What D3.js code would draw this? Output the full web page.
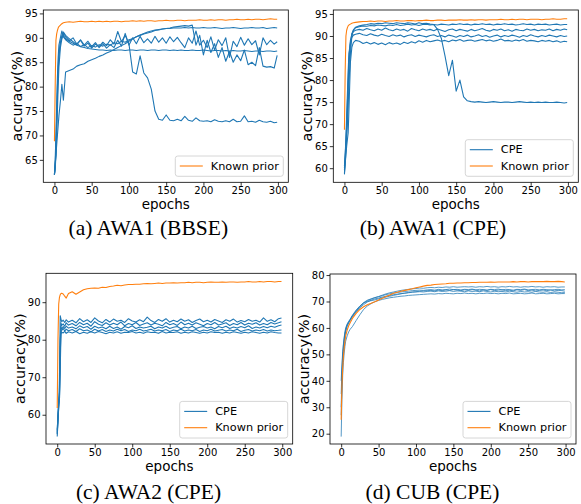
<!DOCTYPE html>
<html><head><meta charset="utf-8">
<script src="https://cdn.jsdelivr.net/npm/d3@7"></script>
<style>body{margin:0;background:#fff} svg{display:block}</style>
</head><body>
<svg id="c" width="581" height="504"></svg>
<script>
// ---------------- DATA ----------------
const epochs = [0,1,2,3,4,5,6,8,10,12,15,20,25,30,35,40,45,50,55,60,65,70,75,80,85,90,95,100,105,110,115,120,125,130,135,140,145,150,155,160,165,170,175,180,185,190,195,200,205,210,215,220,225,230,235,240,245,250,255,260,265,270,275,280,285,290,295,299];
const xTicks = [0,50,100,150,200,250,300];

// (a) AWA1 (BBSE)
const aKnown = [68.8,80,89.5,90.8,91.5,92,92.3,92.6,92.9,93.1,93.2,
93.3,93.2,93.3,93.4,93.3,93.3,93.4,93.3,93.4,93.3,
93.4,93.3,93.4,93.4,93.3,93.4,93.4,93.5,93.4,93.5,
93.4,93.5,93.5,93.4,93.5,93.5,93.6,93.5,93.5,93.6,
93.6,93.5,93.6,93.6,93.6,93.7,93.6,93.6,93.7,93.6,
93.7,93.7,93.6,93.7,93.7,93.8,93.7,93.7,93.8,93.7,
93.8,93.8,93.7,93.8,93.9,93.8,93.8];
const aRun1 = [62,64,66,68,70,72,74,77,80.5,77.2,83,
83.3,83.6,84.2,84.5,84.7,85.2,85.5,85.8,86.2,86.5,
86.9,87.2,87.6,88.0,88.4,88.8,89.3,89.8,90.2,90.6,
90.9,91.2,91.4,91.6,91.7,91.8,91.9,91.9,92.0,92.0,
92.0,92.1,92.0,92.1,92.0,92.0,92.1,92.0,92.0,92.1,
92.0,91.9,92.0,92.0,92.1,92.0,91.9,92.0,92.0,92.1,
92.0,92.0,92.1,91.9,92.0,92.1,92.0];
const aRun2 = [62,64,66,72,78,83,86,89,90.5,91.2,90.5,
89.8,89.2,88.6,89.5,88.3,88.9,87.9,88.7,88.2,89.1,
88.4,89.6,88.7,91.3,89.2,90.5,88.8,83.0,82.6,86.3,
82.8,81.8,79.5,75.0,73.3,73.1,74.2,73.1,73.0,73.3,
73.0,73.9,73.1,72.9,73.6,73.0,72.9,73.0,72.8,73.2,
72.9,72.8,73.0,72.8,73.3,72.8,72.9,74.0,72.8,72.9,
72.7,73.1,72.8,72.7,72.9,72.6,72.7];
const aRun3 = [62,65,70,76,82,86,88.5,90,91.4,90.2,89.6,
89.0,88.5,88.9,88.2,88.6,88.0,88.4,88.1,88.6,88.3,
88.7,88.5,89.0,88.8,89.3,89.1,89.6,89.8,90.2,90.5,
90.8,91.0,91.2,91.5,91.6,91.8,91.9,92.0,92.2,92.3,
92.4,92.5,92.4,92.6,88.5,90.5,86.5,89.5,87.0,88.8,
86.0,88.0,85.2,87.2,85.0,86.5,85.3,87.5,84.5,85.0,
84.3,88.0,84.2,84.0,84.1,83.8,86.4];
const aRun4 = [62,64,68,74,80,84,87,89,90,90.5,89.8,
89.3,88.9,88.5,88.2,88.0,87.8,87.7,87.6,87.5,87.5,
87.4,87.5,87.4,87.5,87.5,87.4,87.5,87.5,87.4,87.5,
87.5,87.4,87.5,87.5,87.4,87.5,87.5,87.4,87.5,87.4,
87.5,87.4,87.4,87.5,87.4,87.4,87.5,87.4,87.3,87.4,
87.4,87.3,87.4,87.3,87.4,87.3,87.3,87.4,87.3,87.2,
87.3,87.3,87.2,87.3,87.3,87.2,87.3];
const aRun5 = [62,63,66,70,75,80,84,88,89.8,91,90.2,
89.4,90.0,88.7,89.6,88.5,89.3,88.2,89.0,88.0,88.8,
87.9,88.6,88.0,89.5,88.3,90.9,88.5,90.0,88.8,90.3,
89.0,89.8,88.9,90.3,89.1,90.0,88.9,90.2,89.2,90.1,
89.0,88.0,90.0,88.9,91.4,88.5,89.5,88.0,90.2,87.5,
89.6,88.4,90.0,86.0,89.3,88.2,90.1,88.5,89.8,88.6,
89.4,86.5,90.0,88.6,89.5,88.7,89.2];

// (b) AWA1 (CPE)
const bKnown = [68.7,82,90,91.3,91.9,92.3,92.5,92.7,92.9,93.0,93.1,
93.2,93.3,93.3,93.4,93.3,93.4,93.4,93.3,93.4,93.4,
93.5,93.4,93.4,93.5,93.5,93.4,93.5,93.5,93.6,93.5,
93.5,93.6,93.6,93.5,93.6,93.6,93.6,93.7,93.6,93.6,
93.7,93.6,93.7,93.7,93.6,93.7,93.7,93.7,93.8,93.7,
93.7,93.8,93.7,93.8,93.8,93.7,93.8,93.8,93.8,93.7,
93.8,93.8,93.9,93.8,93.8,93.9,93.9];
const bRun1 = [58.6,61,64,67,70,74,79,86,90,91.3,92.0,
92.3,92.5,92.6,92.8,92.7,92.9,92.8,93.0,92.9,92.8,
93.0,92.9,92.8,93.0,92.9,92.7,93.0,92.8,92.9,92.7,
92.6,91.5,89.5,85.5,81.0,84.5,77.5,80.0,76.2,75.3,
75.1,75.0,75.1,75.0,74.9,75.0,75.1,75.0,74.9,75.0,
75.0,74.9,75.0,75.1,75.0,74.9,75.0,74.9,75.0,74.9,
75.0,74.9,74.9,75.0,74.9,74.8,74.9];
const bRun2 = [59.5,62,65,69,73,78,83,88,90.5,91.4,91.9,
92.1,92.3,92.2,92.4,92.3,92.5,92.4,92.3,92.5,92.4,
92.6,92.4,92.5,92.7,92.5,92.6,92.4,92.6,92.7,92.5,
92.6,92.5,92.7,92.6,92.5,92.7,92.6,92.8,92.6,92.7,
92.5,92.7,92.6,92.8,92.6,92.7,92.5,92.7,92.6,92.8,
92.6,92.7,92.5,92.6,92.8,92.6,92.7,92.5,92.7,92.6,
92.7,92.5,92.6,92.7,92.5,92.6,92.6];
const bRun3 = [60,63,66,70,75,80,85,89,90.5,91.0,91.3,
91.5,91.3,91.7,91.4,91.2,91.6,91.3,91.8,91.4,91.2,
91.6,91.3,91.5,91.1,91.7,91.4,91.2,91.6,91.3,91.5,
91.2,91.6,91.3,91.0,91.4,91.6,91.2,91.5,91.3,91.1,
91.5,91.2,91.4,91.7,91.3,91.1,91.5,91.3,91.6,91.2,
91.4,91.1,91.5,91.3,91.2,91.6,91.3,91.5,91.2,91.4,
91.3,91.6,91.2,91.5,91.3,91.6,91.4];
const bRun4 = [60.5,63,67,72,77,82,86,88.5,89.7,90.2,90.4,
90.6,90.3,90.1,90.5,90.2,90.0,90.4,90.1,89.9,90.3,
90.0,90.2,89.8,90.1,90.3,89.9,90.2,90.0,89.8,90.1,
90.3,89.9,90.1,89.8,90.2,90.0,89.7,90.1,89.9,90.2,
89.8,90.0,90.3,89.9,90.1,89.7,90.0,90.2,89.8,90.1,
89.9,90.2,90.0,89.7,90.1,89.9,90.3,90.0,89.8,90.1,
89.9,90.2,90.0,89.8,90.1,89.9,90.0];
const bRun5 = [59,61,63,65,66.5,68,73,84,87.5,88.5,89.0,
88.8,88.3,88.6,88.2,88.5,88.1,88.4,88.0,88.5,88.2,
88.4,88.1,88.6,88.3,88.7,88.4,88.9,88.6,89.0,88.7,
88.9,89.1,88.8,89.0,88.7,89.1,88.9,89.2,88.8,89.0,
89.1,88.8,89.0,89.2,88.9,89.1,88.8,89.0,89.3,88.9,
89.0,88.8,89.1,88.9,89.2,88.8,89.0,88.9,88.7,89.0,
88.8,89.0,88.7,88.9,88.6,88.8,88.7];

// (c) AWA2 (CPE)
const cKnown = [61.8,80,89.5,91.3,92.0,92.3,92.4,92.2,91.6,91.1,92.3,
92.8,92.1,92.7,93.3,93.6,93.7,93.8,93.7,94.0,93.9,
94.2,94.3,94.5,94.4,94.6,94.7,94.7,94.8,94.8,94.9,
95.0,94.9,95.0,95.1,95.0,95.1,95.1,95.2,95.1,95.2,
95.2,95.3,95.2,95.3,95.3,95.2,95.3,95.4,95.3,95.3,
95.4,95.3,95.4,95.4,95.3,95.4,95.4,95.5,95.4,95.4,
95.5,95.4,95.5,95.5,95.4,95.5,95.5];
const cRun1 = [54.2,58,62,70,86.4,85.5,84.8,85.2,84.6,85.3,84.7,
85.2,84.5,85.6,84.8,85.3,84.6,85.8,85.0,84.5,85.4,
84.7,85.5,84.9,85.2,84.6,85.6,85.0,84.7,85.3,84.8,
86.0,85.1,84.6,85.4,84.9,85.6,84.7,85.2,84.8,85.5,
84.9,85.3,84.6,85.1,85.5,84.8,85.2,84.7,85.4,85.0,
84.6,85.3,84.9,85.5,84.7,85.1,84.8,85.4,84.9,85.2,
84.7,85.8,84.9,85.3,84.8,85.6,85.8];
const cRun2 = [55,59,63,64,78,84.5,83.8,84.2,83.6,84.5,83.9,
84.3,83.7,84.6,84.0,84.4,83.6,84.8,84.1,83.8,84.5,
83.9,84.4,84.0,84.7,83.7,84.3,84.0,84.6,83.8,84.2,
84.5,83.9,84.4,84.1,83.7,84.6,84.0,84.3,83.8,84.7,
84.0,84.4,83.9,84.5,84.1,83.7,84.3,84.0,84.6,83.9,
84.2,84.5,83.8,84.3,84.0,84.6,83.9,84.4,84.1,84.5,
83.9,84.3,84.0,84.6,84.2,84.5,84.8];
const cRun3 = [56,60,64,66,80,83.5,82.8,83.5,83.0,83.6,83.1,
83.4,82.9,83.7,83.2,83.5,82.8,83.6,83.1,83.4,82.9,
83.6,83.0,83.4,82.8,83.5,83.2,83.7,83.0,83.4,83.1,
83.3,83.6,82.9,83.4,83.1,83.6,83.0,83.3,83.5,82.9,
83.4,83.1,83.6,83.0,83.3,83.5,83.1,83.4,82.9,83.5,
83.2,83.6,83.0,83.4,83.1,83.5,83.2,83.7,83.0,83.4,
83.1,83.5,83.2,83.6,83.3,83.7,83.9];
const cRun4 = [55.5,60,63,65,76,82.0,82.5,83.0,82.3,82.8,82.4,
82.7,82.2,82.9,82.4,82.6,82.1,82.8,82.3,82.7,82.2,
82.6,82.3,82.8,82.4,82.7,82.2,82.6,82.4,82.8,82.3,
82.5,82.8,82.3,82.6,82.4,82.7,82.2,82.6,82.4,82.8,
82.3,82.6,82.4,82.7,82.2,82.6,82.4,82.8,82.3,82.5,
82.7,82.3,82.6,82.4,82.8,82.2,82.5,82.7,82.3,82.6,
82.4,82.7,82.3,82.6,82.4,82.5,82.6];
const cRun5 = [54.8,59,62,64.2,72,81.5,82.0,81.8,82.2,81.7,82.1,
81.8,82.2,81.6,82.0,81.7,82.1,81.8,82.2,81.9,81.6,
82.0,81.8,82.1,81.7,82.0,81.9,82.2,81.8,82.0,81.7,
82.1,81.9,82.0,81.7,82.2,81.8,82.0,81.9,82.1,81.7,
82.0,81.8,82.1,81.9,81.7,82.0,81.8,82.1,81.9,82.0,
81.7,82.0,81.8,82.1,81.9,81.7,82.0,81.8,82.1,81.9,
81.7,82.0,81.8,82.1,81.9,81.8,81.8];

// (d) CUB (CPE)
const dKnown = [25.3,38,45,49.5,52.5,55,57,59.2,60.8,62,63.6,
65.5,67.0,68.0,68.8,69.3,69.9,70.6,71.2,71.9,72.5,
73.1,73.5,73.9,74.2,74.5,74.8,75.2,75.5,75.8,76.1,
76.2,76.4,76.5,76.6,76.7,76.9,76.9,77.0,77.0,77.1,
77.1,77.2,77.2,77.3,77.3,77.3,77.4,77.3,77.4,77.4,
77.4,77.4,77.5,77.4,77.5,77.5,77.4,77.5,77.5,77.5,
77.5,77.6,77.5,77.5,77.6,77.5,77.4];
const dRun1 = [30,42,48,52,55,57.5,59,61,62,63,64.5,
66.3,68.0,69.3,70.3,70.9,71.4,71.9,72.4,72.9,73.3,
73.6,73.9,74.2,74.4,74.6,74.8,74.9,75.1,75.0,75.2,
75.3,75.2,75.4,75.3,75.5,75.4,75.6,75.4,75.5,75.6,
75.5,75.6,75.4,75.6,75.5,75.7,75.5,75.6,75.4,75.6,
75.5,75.7,75.5,75.6,75.4,75.6,75.5,75.7,75.5,75.6,
75.4,75.6,75.5,75.6,75.4,75.5,75.5];
const dRun2 = [35,44,50,53.5,56,58,59.5,61.2,62.3,63.2,64.6,
66.5,68.2,69.6,70.5,71.0,71.5,71.8,72.2,72.6,72.9,
73.2,73.4,73.6,73.8,73.9,74.1,74.2,74.3,74.2,74.4,
74.5,74.3,74.6,74.4,74.5,74.7,74.5,74.6,74.4,74.6,
74.5,74.7,74.4,74.6,74.5,74.3,74.6,74.5,74.7,74.4,
74.6,74.5,74.3,74.6,74.5,74.7,74.4,74.5,74.6,74.4,
74.6,74.5,74.3,74.5,74.6,74.4,74.5];
const dRun3 = [27,40,47,51,54,56.5,58.5,60.5,61.8,62.8,64.2,
66.0,67.6,68.8,69.8,70.5,71.0,71.3,71.7,72.0,72.3,
72.6,72.8,73.0,73.1,73.3,73.5,73.6,73.7,73.6,73.8,
73.9,73.7,74.0,73.8,73.9,74.1,73.8,74.0,73.9,73.7,
74.0,73.8,73.9,73.7,74.0,73.8,73.6,73.9,73.7,73.8,
73.6,73.9,73.7,73.5,73.8,73.6,73.7,73.5,73.8,73.6,
73.5,73.7,73.4,73.6,73.5,73.3,73.4];
const dRun4 = [18.9,33,42,47,50.5,53,55,57,58.5,59.5,60.5,
62.8,65.0,67.0,68.3,69.2,69.9,70.4,70.8,71.1,71.4,
71.6,71.8,72.0,72.1,72.3,72.4,72.5,72.6,72.7,72.8,
72.9,72.8,73.0,72.9,73.1,73.0,72.9,73.1,73.0,73.2,
73.0,73.1,72.9,73.1,73.0,73.2,73.0,73.1,72.9,73.1,
73.0,73.2,72.9,73.0,73.1,72.9,73.0,73.2,72.9,73.0,
73.1,72.9,73.0,73.1,72.9,73.0,73.0];
const dRun5 = [40,46,51,54,56.5,58.5,60,61.5,62.5,63.3,64.8,
66.8,68.3,69.5,70.0,70.3,70.6,71.0,71.4,71.7,72.0,
72.3,72.6,72.9,73.2,73.4,73.6,73.7,73.9,74.0,74.1,
74.2,74.0,74.3,74.1,74.4,74.2,74.5,74.3,74.1,74.4,
74.2,74.5,74.3,74.0,74.4,74.2,74.5,74.1,74.3,74.4,
74.1,74.3,74.0,74.4,74.2,74.5,74.1,74.3,74.0,74.2,
74.3,74.1,74.4,74.0,74.2,74.1,73.9];

const yTicksA = [65,70,75,80,85,90,95];
const yTicksB = [60,65,70,75,80,85,90,95];
const yTicksC = [60,70,80,90];
const yTicksD = [20,30,40,50,60,70,80];
const captions = ['(a) AWA1 (BBSE)','(b) AWA1 (CPE)','(c) AWA2 (CPE)','(d) CUB (CPE)'];
const seriesNames = ['CPE','Known prior'];

// ---------------- LAYOUT ----------------
const BLUE = '#1f77b4', ORANGE = '#ff7f0e';
const panels = [
  {x0:43.3, y0:10, x1:288.3, y1:182.3, ydom:[60.4,95.7], yt:yTicksA, runs:[aRun1,aRun2,aRun3,aRun4,aRun5], known:aKnown, legend:[1], cap:captions[0], capX:148.3, capY:235},
  {x0:333.3, y0:10, x1:578.3, y1:182.3, ydom:[56.8,95.9], yt:yTicksB, runs:[bRun1,bRun2,bRun3,bRun4,bRun5], known:bKnown, legend:[0,1], cap:captions[1], capX:433, capY:235},
  {x0:46, y0:273.3, x1:292.7, y1:444, ydom:[52.2,97.7], yt:yTicksC, runs:[cRun1,cRun2,cRun3,cRun4,cRun5], known:cKnown, legend:[0,1], cap:captions[2], capX:148.5, capY:499},
  {x0:330, y0:274, x1:576, y1:444, ydom:[16.1,80.4], yt:yTicksD, runs:[dRun1,dRun2,dRun3,dRun4,dRun5], known:dKnown, legend:[0,1], cap:captions[3], capX:432.5, capY:499, thin:true}
];

const svg = d3.select('#c');
const SANS = 'DejaVu Sans, sans-serif';

panels.forEach((p, i) => {
  const x = d3.scaleLinear().domain([-14.95, 313.95]).range([p.x0, p.x1]);
  const y = d3.scaleLinear().domain(p.ydom).range([p.y1, p.y0]);
  const g = svg.append('g');
  const clipId = 'clip' + i;
  svg.append('clipPath').attr('id', clipId).append('rect')
    .attr('x', p.x0).attr('y', p.y0).attr('width', p.x1 - p.x0).attr('height', p.y1 - p.y0);

  const line = d3.line().x((d, k) => x(epochs[k])).y(d => y(d));
  const lg = g.append('g').attr('clip-path', `url(#${clipId})`);
  p.runs.forEach(r => {
    lg.append('path').attr('d', line(r)).attr('fill', 'none')
      .attr('stroke', BLUE).attr('stroke-width', p.thin ? 0.9 : 1.1)
      .attr('stroke-opacity', p.thin ? 0.85 : 1).attr('stroke-linejoin', 'round');
  });
  lg.append('path').attr('d', line(p.known)).attr('fill', 'none')
    .attr('stroke', ORANGE).attr('stroke-width', 1.1).attr('stroke-linejoin', 'round');

  // axes
  const xa = g.append('g').attr('transform', `translate(0,${p.y1})`)
    .call(d3.axisBottom(x).tickValues(xTicks).tickSize(3.5).tickPadding(1.3).tickSizeOuter(0));
  const ya = g.append('g').attr('transform', `translate(${p.x0},0)`)
    .call(d3.axisLeft(y).tickValues(p.yt).tickSize(3.5).tickPadding(2).tickSizeOuter(0));
  [xa, ya].forEach(a => {
    a.select('.domain').remove();
    a.selectAll('line').attr('stroke', '#000').attr('stroke-width', 0.8);
    a.selectAll('text').attr('font-family', SANS).attr('font-size', 10).attr('fill', '#000');
  });
  g.append('rect').attr('x', p.x0).attr('y', p.y0).attr('width', p.x1 - p.x0).attr('height', p.y1 - p.y0)
    .attr('fill', 'none').attr('stroke', '#000').attr('stroke-width', 0.8);

  // labels
  g.append('text').attr('x', (p.x0 + p.x1) / 2).attr('y', p.y1 + 26.8)
    .attr('text-anchor', 'middle').attr('font-family', SANS).attr('font-size', 13.5).text('epochs');
  g.append('text').attr('transform', `translate(${p.x0 - 26},${(p.y0 + p.y1) / 2}) rotate(-90)`)
    .attr('text-anchor', 'middle').attr('dominant-baseline', 'central')
    .attr('font-family', SANS).attr('font-size', 14.5).text('accuracy(%)');
  svg.append('text').attr('x', p.capX).attr('y', p.capY).attr('text-anchor', 'middle')
    .attr('font-family', 'Liberation Serif, Times New Roman, serif').attr('font-size', 21.5).text(p.cap);

  // legend (lower right)
  const n = p.legend.length;
  const bw = 108, bh = n * 16.3 + 4;
  const bx = p.x1 - 5 - bw, by = p.y1 - 6 - bh;
  g.append('rect').attr('x', bx).attr('y', by).attr('width', bw).attr('height', bh).attr('rx', 2.5)
    .attr('fill', '#fff').attr('fill-opacity', 0.8).attr('stroke', '#cccccc').attr('stroke-width', 0.8);
  p.legend.forEach((s, k) => {
    const cy = by + 10 + k * 16.3;
    g.append('line').attr('x1', bx + 4.5).attr('x2', bx + 27.5).attr('y1', cy).attr('y2', cy)
      .attr('stroke', s === 0 ? BLUE : ORANGE).attr('stroke-width', 1.1);
    g.append('text').attr('x', bx + 35.5).attr('y', cy).attr('dominant-baseline', 'central')
      .attr('font-family', SANS).attr('font-size', 11.3).text(seriesNames[s]);
  });
});
</script>
</body></html>
